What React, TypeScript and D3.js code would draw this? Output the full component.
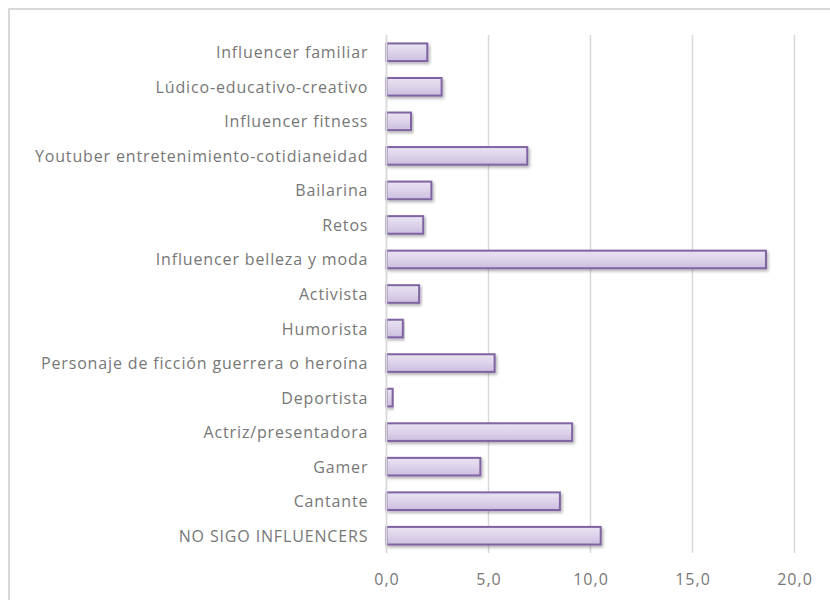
import React from "react";
import * as d3 from "d3";

const categories = [
  "Influencer familiar",
  "Lúdico-educativo-creativo",
  "Influencer fitness",
  "Youtuber entretenimiento-cotidianeidad",
  "Bailarina",
  "Retos",
  "Influencer belleza y moda",
  "Activista",
  "Humorista",
  "Personaje de ficción guerrera o heroína",
  "Deportista",
  "Actriz/presentadora",
  "Gamer",
  "Cantante",
  "NO SIGO INFLUENCERS",
];
const values = [2.0, 2.7, 1.2, 6.9, 2.2, 1.8, 18.6, 1.6, 0.8, 5.3, 0.3, 9.1, 4.6, 8.5, 10.5];
const ticks = [0, 5, 10, 15, 20];

export default function App() {
  const W = 830, H = 600;
  const left = 378.5, right = 786.5, top = 27, bottom = 545;
  const x = d3.scaleLinear().domain([0, 20]).range([left, right]);
  const y = d3.scaleBand<string>().domain(categories).range([top, bottom]).paddingInner(0.49).paddingOuter(0.245);
  const fmt = (v: number) => v.toFixed(1).replace(".", ",");
  const font = "'Open Sans', sans-serif";
  const ls = 0.85;
  return (
    <svg width={W} height={H} style={{ display: "block", position: "absolute", left: 0, top: 0 }}>
      <defs>
        <linearGradient id="barg" x1="0" y1="0" x2="0" y2="1">
          <stop offset="0" stopColor="#e9e3f2" />
          <stop offset="0.5" stopColor="#ddd3ea" />
          <stop offset="1" stopColor="#cbbedf" />
        </linearGradient>
        <filter id="sh" x="-10%" y="-50%" width="120%" height="200%">
          <feDropShadow dx="1.5" dy="2" stdDeviation="1.5" floodColor="#000" floodOpacity="0.3" />
        </filter>
      </defs>
      <g transform="translate(8,8)">
        <rect x={1} y={1} width={W + 20} height={H + 20} fill="#fff" stroke="#d9d9d9" strokeWidth={2} />
        {ticks.map((t) => (
          <line key={t} x1={x(t)} x2={x(t)} y1={top} y2={bottom} stroke="#d9d9d9" strokeWidth={1.5} />
        ))}
        {categories.map((c, i) => (
          <rect
            key={c}
            x={x(0)}
            y={y(c)!}
            width={x(values[i]) - x(0)}
            height={y.bandwidth()}
            fill="url(#barg)"
            stroke="#8064a2"
            strokeWidth={2}
            filter="url(#sh)"
          />
        ))}
        <line x1={x(0)} x2={x(0)} y1={top} y2={bottom} stroke="#d9d9d9" strokeWidth={1.5} />
        {categories.map((c) => (
          <text
            key={c}
            x={left - 19 + ls}
            y={y(c)! + y.bandwidth() / 2}
            textAnchor="end"
            dominantBaseline="central"
            fontFamily={font}
            fontSize={16}
            letterSpacing={ls}
            fill="#777777"
          >
            {c}
          </text>
        ))}
        {ticks.map((t) => (
          <text
            key={t}
            x={x(t) + 0.5}
            y={571}
            textAnchor="middle"
            dominantBaseline="central"
            fontFamily={font}
            fontSize={16}
            letterSpacing={1}
            fill="#777777"
          >
            {fmt(t)}
          </text>
        ))}
      </g>
    </svg>
  );
}
